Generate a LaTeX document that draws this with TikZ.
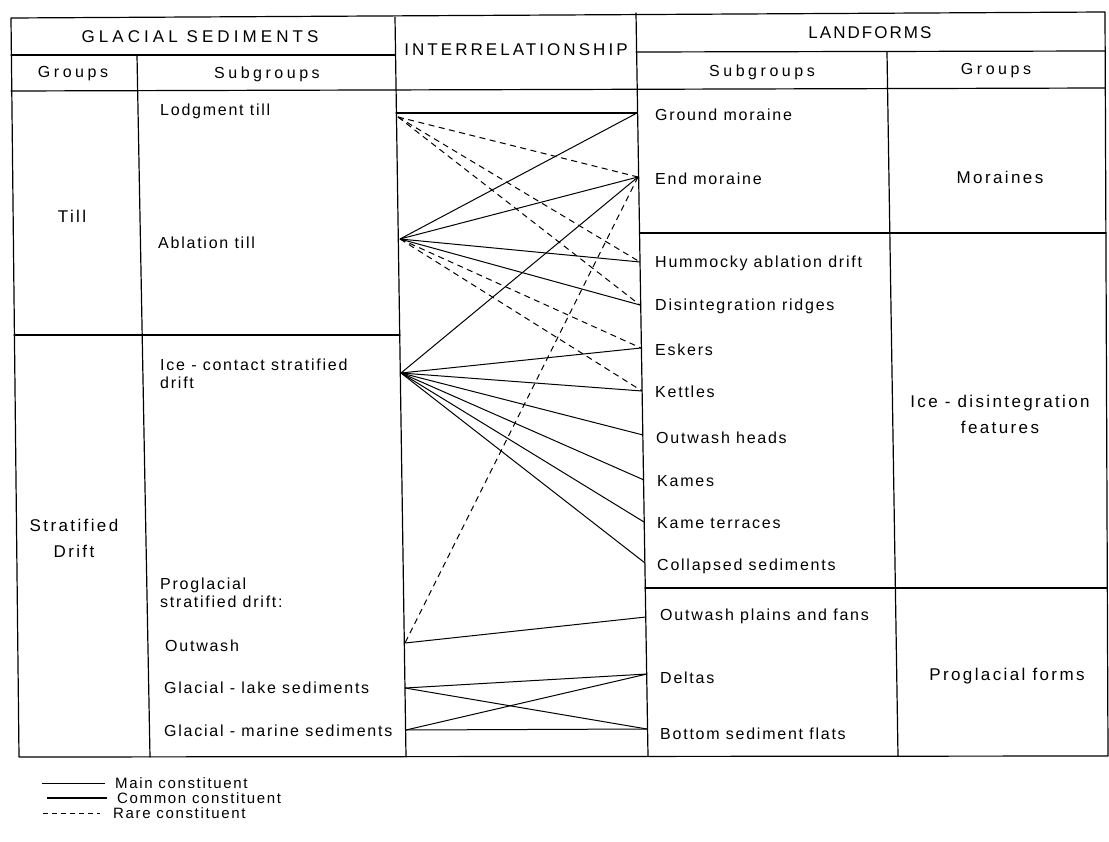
\documentclass[tikz,border=0pt]{standalone}
\usepackage{fontspec}
\setmainfont{Liberation Sans}
\newfontfamily\bodyf{Liberation Sans}[LetterSpace=11]
\newfontfamily\grpf{Liberation Sans}[LetterSpace=14]
\newfontfamily\hdA{Liberation Sans}[LetterSpace=24]
\newfontfamily\hdB{Liberation Sans}[LetterSpace=18]
\newfontfamily\hdC{Liberation Sans}[LetterSpace=12]
\newfontfamily\hdS{Liberation Sans}[LetterSpace=22]
\begin{document}
\begin{tikzpicture}[x=1pt,y=-1pt,
  frame/.style={line width=1.2pt, line cap=round, line join=round},
  conn/.style={line width=1pt},
  rare/.style={line width=1pt, dash pattern=on 6pt off 4.5pt},
  txt/.style={anchor=west, inner sep=0pt, align=left, font=\bodyf\fontsize{16}{18}\selectfont},
  grp/.style={inner sep=0pt, align=center, font=\grpf\fontsize{17}{26}\selectfont},
  hd/.style={inner sep=0pt, font=\fontsize{17}{20}\selectfont},
  sub/.style={inner sep=0pt, font=\hdS\fontsize{16}{19}\selectfont}]
\useasboundingbox (0,0) rectangle (1109,842);

% ---------- table frame ----------
\draw[frame] (11,18) -- (1105,12) -- (1108,756) -- (19,757) -- cycle;
\draw[frame] (137,55) -- (150,757);
\draw[frame] (395,17) -- (406,757);
\draw[frame] (636,13) -- (648,756);
\draw[frame] (887,52) -- (898,756);
\draw[frame] (11,55) -- (395,55);
\draw[frame] (636,52) -- (1105,51);
\draw[frame] (11,91) -- (1105,88);
\draw[frame] (396,113) -- (637,113);
\draw[frame] (14,335) -- (400,335);
\draw[frame] (640,233) -- (1106,233);
\draw[frame] (645,588) -- (1107,588);

% ---------- headers ----------
\node[hd, font=\hdA\fontsize{17}{20}\selectfont] (hgs) at (200,37) {GLACIAL SEDIMENTS};
\node[hd, font=\hdB\fontsize{17}{20}\selectfont] (hir) at (516,50) {INTERRELATIONSHIP};
\node[hd, font=\hdC\fontsize{17}{20}\selectfont] (hlf) at (870,33) {LANDFORMS};
\node[sub] (hg1) at (73,74) {Groups};
\node[sub] (hs1) at (267,74) {Subgroups};
\node[sub] (hs2) at (762,72) {Subgroups};
\node[sub] (hg2) at (996,71) {Groups};

% ---------- groups ----------
\node[grp] (gtill) at (72,216) {Till};
\node[grp] (gstrat) at (74,538) {Stratified\\Drift};
\node[grp] (gmor) at (1000,177) {Moraines};
\node[grp] (gice) at (1000,414) {Ice - disintegration\\features};
\node[grp] (gpro) at (1007,676) {Proglacial forms};

% ---------- sediment subgroups ----------
\node[txt] (s1) at (160,111) {Lodgment till};
\node[txt] (s2) at (158,243) {Ablation till};
\node[txt] (s3) at (160,374) {Ice - contact stratified\\drift};
\node[txt] (s4) at (160,593) {Proglacial\\stratified drift:};
\node[txt] (s5) at (165,646) {Outwash};
\node[txt] (s6) at (164,688) {Glacial - lake sediments};
\node[txt] (s7) at (164,731) {Glacial - marine sediments};

% ---------- landform subgroups ----------
\node[txt] (f1) at (655,115) {Ground moraine};
\node[txt] (f2) at (655,179) {End moraine};
\node[txt] (f3) at (655,263) {Hummocky ablation drift};
\node[txt] (f4) at (655,306) {Disintegration ridges};
\node[txt] (f5) at (655,350) {Eskers};
\node[txt] (f6) at (655,392) {Kettles};
\node[txt] (f7) at (656,438) {Outwash heads};
\node[txt] (f8) at (657,481) {Kames};
\node[txt] (f9) at (657,523) {Kame terraces};
\node[txt] (f10) at (657,566) {Collapsed sediments};
\node[txt] (f11) at (660,616) {Outwash plains and fans};
\node[txt] (f12) at (660,678) {Deltas};
\node[txt] (f13) at (660,734) {Bottom sediment flats};

% ---------- connector end points ----------
\coordinate (L1) at (398,117);
\coordinate (L2) at (400,239);
\coordinate (L3) at (401,373);
\coordinate (L4) at (405,643);
\coordinate (L5) at (405,688);
\coordinate (L6) at (406,730);
\coordinate (R1) at (637,113);
\coordinate (R2) at (638,177);
\coordinate (R3) at (640,262);
\coordinate (R4) at (640,305);
\coordinate (R5) at (641,348);
\coordinate (R6) at (642,391);
\coordinate (R7) at (643,435);
\coordinate (R8) at (644,480);
\coordinate (R9) at (644,522);
\coordinate (R10) at (645,563);
\coordinate (R11) at (646,617);
\coordinate (R12) at (647,674);
\coordinate (R13) at (647,729);

% rare constituents
\draw[rare] (L1) -- (R2);
\draw[rare] (L1) -- (R3);
\draw[rare] (L1) -- (R4);
\draw[rare] (L2) -- (R5);
\draw[rare] (L2) -- (R6);
\draw[rare] (R2) -- (L4);

% main / common constituents
\draw[conn] (L2) -- (R1);
\draw[conn] (L2) -- (R2);
\draw[conn] (L2) -- (R3);
\draw[conn] (L2) -- (R4);
\draw[conn] (L3) -- (R2);
\draw[conn] (L3) -- (R5);
\draw[conn] (L3) -- (R6);
\draw[conn] (L3) -- (R7);
\draw[conn] (L3) -- (R8);
\draw[conn] (L3) -- (R9);
\draw[conn] (L3) -- (R10);
\draw[conn] (L4) -- (R11);
\draw[conn] (L5) -- (R12);
\draw[conn] (L5) -- (R13);
\draw[conn] (L6) -- (R12);
\draw[conn] (L6) -- (R13);

% ---------- legend ----------
\coordinate (ma) at (42,783);  \coordinate (mb) at (105,783);
\coordinate (ca) at (47,798);  \coordinate (cb) at (107,798);
\coordinate (ra) at (43,813);  \coordinate (rb) at (100,813);
\draw[line width=0.7pt] (ma) -- (mb);
\draw[line width=1.3pt] (ca) -- (cb);
\draw[line width=0.9pt, dash pattern=on 5pt off 4pt] (ra) -- (rb);
\node[txt, font=\bodyf\fontsize{15}{17}\selectfont] (lm) at (115,783) {Main constituent};
\node[txt, font=\bodyf\fontsize{15}{17}\selectfont] (lc) at (117,798) {Common constituent};
\node[txt, font=\bodyf\fontsize{15}{17}\selectfont] (lr) at (113,813) {Rare constituent};
\end{tikzpicture}
\end{document}
